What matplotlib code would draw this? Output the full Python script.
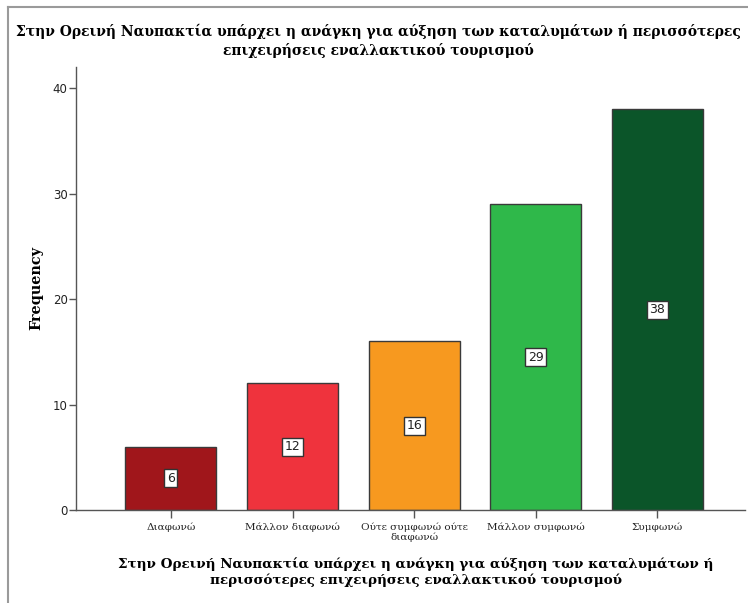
import matplotlib
matplotlib.use("Agg")
import matplotlib.pyplot as plt
from matplotlib.lines import Line2D

# Chart data
categories = ["Διαφωνώ", "Μάλλον διαφωνώ", "Ούτε συμφωνώ ούτε\nδιαφωνώ", "Μάλλον συμφωνώ", "Συμφωνώ"]
frequencies = [6, 12, 16, 29, 38]
bar_colors = ["#A0161B", "#EF333D", "#F7991F", "#2FB84A", "#0B5529"]
y_ticks = [0, 10, 20, 30, 40]

title_text = ("Στην Ορεινή Ναυπακτία υπάρχει η ανάγκη για αύξηση των καταλυμάτων ή περισσότερες\n"
              "επιχειρήσεις εναλλακτικού τουρισμού")
xlabel_text = ("Στην Ορεινή Ναυπακτία υπάρχει η ανάγκη για αύξηση των καταλυμάτων ή\n"
               "περισσότερες επιχειρήσεις εναλλακτικού τουρισμού")

SERIF = "DejaVu Serif"

W, H = 748, 603
fig = plt.figure(figsize=(W / 100, H / 100), dpi=100)
ax = fig.add_axes([76 / W, 1 - 510 / H, (745 - 76) / W, (510 - 67) / H])

x = list(range(len(categories)))
bars = ax.bar(x, frequencies, width=0.75, color=bar_colors, edgecolor="#3a3a3a", linewidth=1.0)

# value labels in white boxes at half bar height
for xi, v in zip(x, frequencies):
    ax.text(xi, v / 2, str(v), ha="center", va="center", fontsize=9, color="#222222",
            family="DejaVu Sans",
            bbox=dict(boxstyle="square,pad=0.2", facecolor="white", edgecolor="#333333", linewidth=1.0))

ax.set_xlim(-0.78, 4.72)
ax.set_ylim(0, 42)
ax.set_yticks(y_ticks)
ax.set_yticklabels([str(t) for t in y_ticks], fontsize=8.5, color="#222222", family="DejaVu Sans")
ax.set_xticks(x)
ax.set_xticklabels(categories, fontsize=7.5, family=SERIF, color="#222222", linespacing=1.0)

for side in ["top", "right"]:
    ax.spines[side].set_visible(False)
for side in ["left", "bottom"]:
    ax.spines[side].set_color("#555555")
    ax.spines[side].set_linewidth(1.0)
ax.tick_params(axis="y", direction="out", length=5, width=1, color="#555555", pad=1)
ax.tick_params(axis="x", direction="out", length=6, width=1, color="#555555", pad=3)

ax.set_ylabel("Frequency", fontsize=10.4, fontweight="bold", family=SERIF, labelpad=7)
ax.set_xlabel(xlabel_text, fontsize=9.7, fontweight="bold", family=SERIF,
              labelpad=11, linespacing=1.3)
ax.xaxis.label.set_x(0.508)

fig.text(378 / W, 1 - 41 / H, title_text, ha="center", va="center", fontsize=10,
         fontweight="bold", family=SERIF, linespacing=1.3)

# outer gray frame (top and left)
fig.add_artist(Line2D([8 / W, 1], [1 - 7 / H, 1 - 7 / H], color="#9a9a9a", linewidth=1.5))
fig.add_artist(Line2D([8 / W, 8 / W], [0, 1 - 7 / H], color="#9a9a9a", linewidth=1.5))

fig.savefig("out.png", dpi=100)
